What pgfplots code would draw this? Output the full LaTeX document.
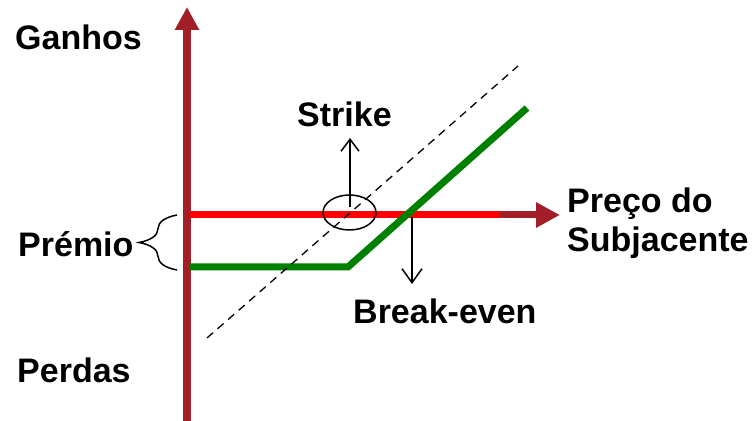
\documentclass[border=0pt]{standalone}
\usepackage{fontspec}
\setmainfont{Liberation Sans}
\usepackage{pgfplots}
\pgfplotsset{compat=1.18}
\usetikzlibrary{arrows.meta,decorations.pathreplacing}
\definecolor{axred}{HTML}{A21F2A}
\definecolor{linered}{HTML}{FF0000}
\definecolor{linegreen}{HTML}{008000}

\begin{document}
\begin{tikzpicture}[lbl/.style={font=\fontsize{34bp}{40bp}\selectfont\bfseries, inner sep=0pt, anchor=base west}]
\begin{axis}[
    scale only axis,
    width=756bp, height=421bp,
    xmin=0, xmax=756, ymin=0, ymax=421,
    enlargelimits=false,
    hide axis,
    clip=false,
]
% axes
\addplot[axred, line width=8bp, -{Triangle[length=23bp,width=23bp]}] coordinates {(187,0) (187,414)};
\addplot[linered, line width=7bp] coordinates {(190,206) (500,206)};
\addplot[axred, line width=7bp, -{Triangle[length=24bp,width=24bp]}] coordinates {(499,206) (560,206)};
% payoff
\addplot[linegreen, line width=7bp] coordinates {(190,154) (348,154) (527,313)};
% underlying (dashed)
\addplot[black, line width=1.3bp, dash pattern=on 8bp off 6bp] coordinates {(207,83) (518,355)};
% strike circle and arrows
\draw[black, line width=1.5bp] (axis cs:349.5,208.5) ellipse [x radius=26.5bp, y radius=17.5bp];
\addplot[black, line width=1.5bp, -{Straight Barb[length=12bp,width=18bp]}] coordinates {(350,214) (350,283)};
\addplot[black, line width=1.5bp, -{Straight Barb[length=14bp,width=20bp]}] coordinates {(412,204) (412,137)};
% premium brace
\draw[black, line width=1.5bp, decorate, decoration={brace, amplitude=38bp}] (axis cs:177,151) -- (axis cs:177,206);
% labels
\node[lbl] at (axis cs:15,371) {Ganhos};
\node[lbl] at (axis cs:18,164) {Prémio};
\node[lbl] at (axis cs:17,38) {Perdas};
\node[lbl] at (axis cs:297,294) {Strike};
\node[lbl] at (axis cs:353,97) {Break-even};
\node[lbl] at (axis cs:567,208) {Preço do};
\node[lbl] at (axis cs:567,169) {Subjacente};
\path (axis cs:0,0) coordinate (ll) (axis cs:756,421) coordinate (ur);
\end{axis}
\pgfresetboundingbox
\useasboundingbox (ll) rectangle (ur);
\end{tikzpicture}
\end{document}
